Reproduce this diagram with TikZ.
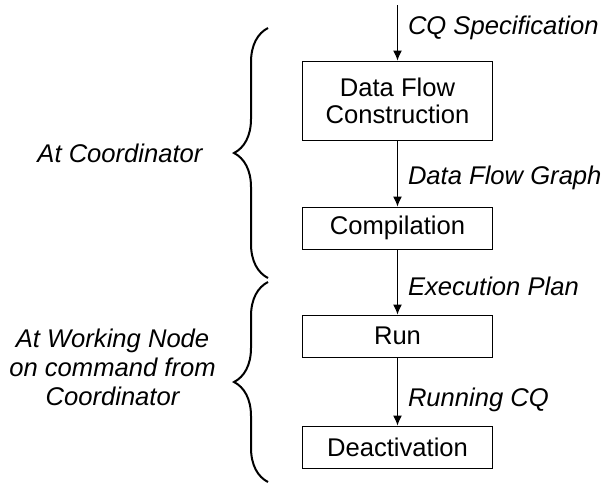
\documentclass[tikz,border=0pt]{standalone}
\usepackage{fontspec}
\setmainfont{Liberation Sans}
\usetikzlibrary{positioning,arrows.meta,decorations.pathreplacing}
\tikzstyle{phase} = [draw, rectangle, text centered, align=center, minimum width=95pt, minimum height=21pt, inner sep=2pt, line width=0.5pt]
\tikzstyle{line} = [draw, -{Latex[length=5pt,width=4.5pt]}, line width=0.5pt]
\tikzstyle{flow} = [right, font=\itshape, inner sep=1pt, xshift=4pt]
\tikzstyle{group} = [draw, line width=1pt, decorate, decoration={brace, amplitude=17pt}]
\tikzstyle{where} = [font=\itshape, align=center, inner sep=0pt]

\begin{document}
\begin{tikzpicture}[x=0.5pt, y=-0.5pt, node distance=33pt]
    \fontsize{12.8}{13.6}\selectfont
    \useasboundingbox (0,0) rectangle (604,483);

    % Place nodes
    \coordinate (spec) at (397.5,5);
    \node [phase, minimum height=39.5pt] (construction) at (397.5,100.5) {Data Flow\\Construction};
    \node [phase, below=33pt of construction] (compilation) {Compilation};
    \node [phase, below=32.5pt of compilation] (run) {Run};
    \node [phase, below=34pt of run] (deactivation) {Deactivation};

    % Draw edges
    \path [line] (spec) -- node [flow, pos=0.41] {CQ Specification} (construction);
    \path [line] (construction) -- node [flow, pos=0.56] {Data Flow Graph} (compilation);
    \path [line] (compilation) -- node [flow, pos=0.57] {Execution Plan} (run);
    \path [line] (run) -- node [flow, pos=0.62] {Running CQ} (deactivation);

    % Braces
    \coordinate (coord-top) at (268,28);
    \coordinate (coord-bottom) at (268,278);
    \coordinate (work-top) at (268,282);
    \coordinate (work-bottom) at (268,482);
    \path [group] (coord-bottom) -- (coord-top);
    \path [group] (work-bottom) -- (work-top);
    \node [where] (at-coordinator) at (120,153) {At Coordinator};
    \node [where, font=\itshape\fontsize{12.8}{14.5}\selectfont] (at-worker) at (112.5,367) {At Working Node\\on command from\\Coordinator};
\end{tikzpicture}
\end{document}
